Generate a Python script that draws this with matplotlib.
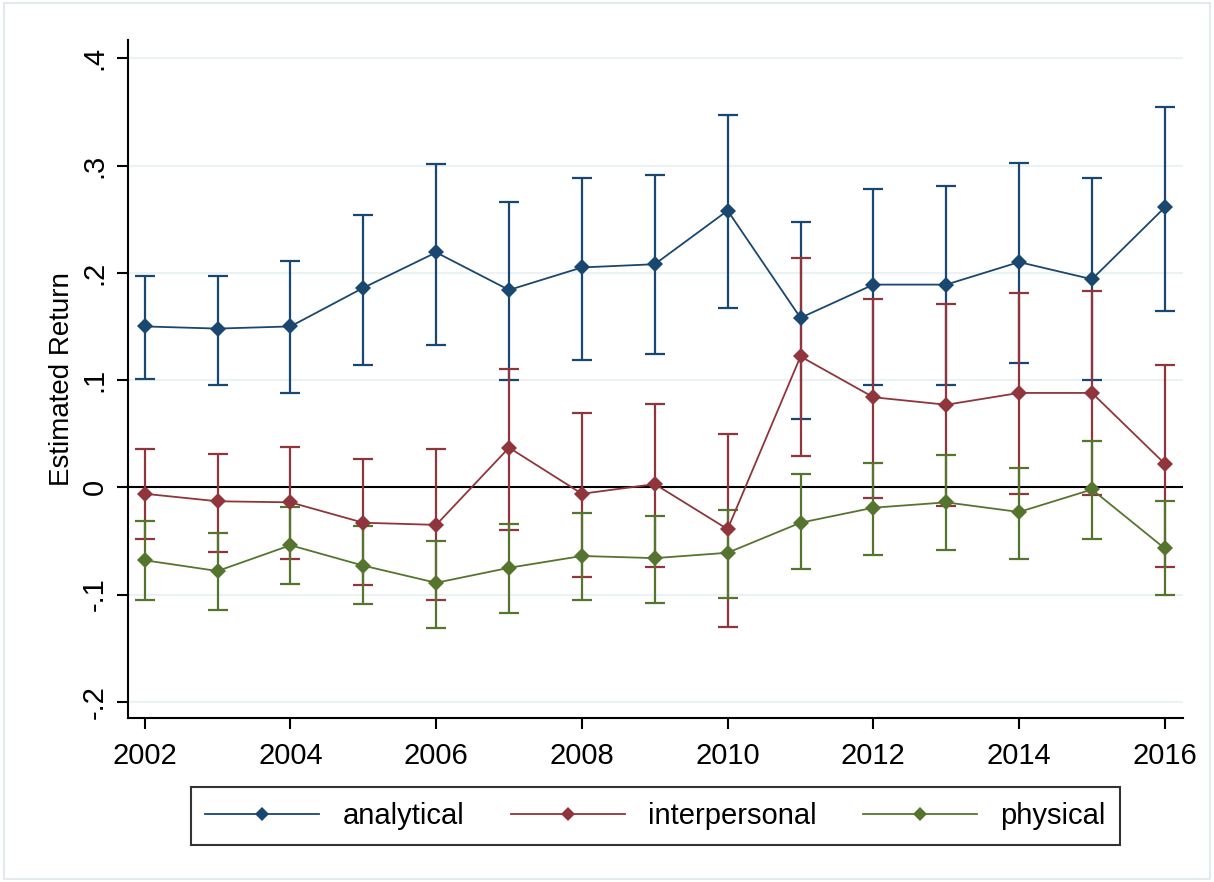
import numpy as np
import matplotlib
matplotlib.use("Agg")
import matplotlib.pyplot as plt
from matplotlib.patches import Rectangle

plt.rcParams['font.family'] = ['Liberation Sans', 'DejaVu Sans']

# data
years = np.arange(2002, 2017)

analytical    = [0.150, 0.148, 0.150, 0.186, 0.219, 0.184, 0.205, 0.208, 0.258, 0.158, 0.189, 0.189, 0.210, 0.194, 0.261]
analytical_hi = [0.197, 0.197, 0.211, 0.254, 0.301, 0.266, 0.288, 0.291, 0.347, 0.247, 0.278, 0.281, 0.302, 0.288, 0.355]
analytical_lo = [0.101, 0.095, 0.088, 0.114, 0.133, 0.100, 0.119, 0.124, 0.167, 0.064, 0.095, 0.095, 0.116, 0.100, 0.164]

interpersonal    = [-0.006, -0.013, -0.014, -0.033, -0.035, 0.037, -0.006, 0.003, -0.039, 0.122, 0.084, 0.077, 0.088, 0.088, 0.022]
interpersonal_hi = [0.036, 0.031, 0.038, 0.026, 0.036, 0.110, 0.069, 0.078, 0.050, 0.214, 0.176, 0.171, 0.181, 0.183, 0.114]
interpersonal_lo = [-0.048, -0.060, -0.067, -0.091, -0.105, -0.040, -0.084, -0.074, -0.130, 0.029, -0.010, -0.017, -0.006, -0.007, -0.074]

physical    = [-0.068, -0.078, -0.054, -0.073, -0.089, -0.075, -0.064, -0.066, -0.061, -0.033, -0.019, -0.014, -0.023, -0.002, -0.057]
physical_hi = [-0.031, -0.043, -0.018, -0.036, -0.050, -0.034, -0.024, -0.027, -0.021, 0.012, 0.023, 0.030, 0.018, 0.043, -0.013]
physical_lo = [-0.105, -0.114, -0.090, -0.109, -0.131, -0.117, -0.105, -0.108, -0.103, -0.076, -0.063, -0.058, -0.067, -0.048, -0.100]

series = [
    ("analytical", analytical, analytical_lo, analytical_hi, "#1a476f"),
    ("interpersonal", interpersonal, interpersonal_lo, interpersonal_hi, "#90353b"),
    ("physical", physical, physical_lo, physical_hi, "#55752f"),
]

yticks = [-0.2, -0.1, 0, 0.1, 0.2, 0.3, 0.4]
ytick_labels = ["-.2", "-.1", "0", ".1", ".2", ".3", ".4"]
xticks = np.arange(2002, 2017, 2)

fig = plt.figure(figsize=(12.14, 8.82), dpi=100)
fig.patches.append(Rectangle((0.003, 0.003), 0.994, 0.994, transform=fig.transFigure,
                             fill=False, edgecolor="#e3eaee", linewidth=1.5))
ax = fig.add_axes([0.1054, 0.186, 0.8691, 0.7686])

for y in yticks:
    if y != 0:
        ax.axhline(y, color="#eaf2f3", linewidth=1.5, zorder=0)
ax.axhline(0, color="black", linewidth=1.5, zorder=1)

handles = []
for name, vals, lo, hi, col in series:
    vals = np.array(vals)
    err = [vals - np.array(lo), np.array(hi) - vals]
    ax.errorbar(years, vals, yerr=err, fmt="none", ecolor=col, elinewidth=1.6,
                capsize=7, capthick=1.6, zorder=2)
    h, = ax.plot(years, vals, color=col, linewidth=1.3, marker="D", markersize=8,
                 markeredgewidth=0, zorder=3, label=name)
    handles.append(h)

ax.set_xlim(2001.77, 2016.25)
ax.set_ylim(-0.215, 0.417)
ax.set_xticks(xticks)
ax.set_xticklabels([str(x) for x in xticks], fontsize=21)
ax.set_yticks(yticks)
ax.set_yticklabels(ytick_labels, fontsize=21, rotation=90, va="center")
ax.tick_params(axis="x", direction="out", length=8, width=1.5, pad=9)
ax.tick_params(axis="y", direction="out", length=8, width=1.5, pad=6)
ax.set_ylabel("Estimated Return", fontsize=20, labelpad=4)

for s in ["top", "right"]:
    ax.spines[s].set_visible(False)
for s in ["left", "bottom"]:
    ax.spines[s].set_linewidth(1.5)

leg = fig.legend(handles=handles, loc="center", bbox_to_anchor=(0.540, 0.0748), ncol=3,
                 fontsize=21, frameon=True, fancybox=False, edgecolor="black",
                 handlelength=3.9, handletextpad=0.8, columnspacing=1.6,
                 borderpad=0.5, markerscale=0.85)
leg.get_frame().set_linewidth(1.5)

fig.savefig("out.png", dpi=100)
